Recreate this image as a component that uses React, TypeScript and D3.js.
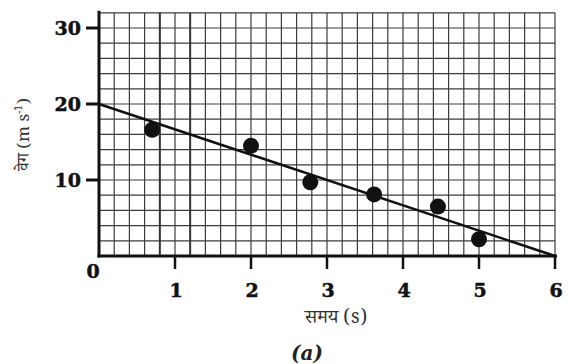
import * as d3 from 'd3'
import { useEffect, useRef } from 'react'

// measured points: time (s) vs velocity (m/s)
const timeValues = [0.7, 2.0, 2.78, 3.62, 4.46, 5.0]
const velocityValues = [16.6, 14.5, 9.7, 8.1, 6.5, 2.2]
// best fit line end points
const fitTimes = [0, 6]
const fitVelocities = [20, 0]
const xTickValues = [1, 2, 3, 4, 5, 6]
const yTickValues = [10, 20, 30]
const heavyGridX = [0.8, 1.2]

const drawChart = (svgEl: SVGSVGElement, width: number, height: number) => {
    const margin = { top: 12.8, right: 13, bottom: 108, left: 99 }

    const svg = d3.select(svgEl)
    svg.selectAll('*').remove()

    const x = d3.scaleLinear()
        .domain([0, 6])
        .range([margin.left, width - margin.right])

    const y = d3.scaleLinear()
        .domain([0, 32])
        .range([height - margin.bottom, margin.top])

    const gridColor = '#3c3c3c'

    // graph paper
    const grid = svg.append('g')
    grid.selectAll('line.v')
        .data(d3.range(0, 31).map(i => i * 0.2))
        .enter()
        .append('line')
        .attr('x1', d => x(d))
        .attr('x2', d => x(d))
        .attr('y1', y(32))
        .attr('y2', y(0))
        .attr('stroke', gridColor)
        .attr('stroke-width', 1.2)

    grid.selectAll('line.h')
        .data(d3.range(0, 17).map(i => i * 2))
        .enter()
        .append('line')
        .attr('x1', x(0))
        .attr('x2', x(6))
        .attr('y1', d => y(d))
        .attr('y2', d => y(d))
        .attr('stroke', gridColor)
        .attr('stroke-width', 1.2)

    grid.selectAll('line.heavy')
        .data(heavyGridX)
        .enter()
        .append('line')
        .attr('x1', d => x(d))
        .attr('x2', d => x(d))
        .attr('y1', y(32))
        .attr('y2', y(0))
        .attr('stroke', '#333')
        .attr('stroke-width', 1.9)

    // axes
    svg.append('line')
        .attr('x1', x(0)).attr('x2', x(0))
        .attr('y1', y(32) - 2).attr('y2', y(0) + 1.5)
        .attr('stroke', '#111').attr('stroke-width', 3)
    svg.append('line')
        .attr('x1', x(0) - 1.5).attr('x2', x(6) + 2)
        .attr('y1', y(0)).attr('y2', y(0))
        .attr('stroke', '#111').attr('stroke-width', 3)

    const tickFont = '"DejaVu Serif", "Liberation Serif", serif'

    // y ticks
    svg.selectAll('line.yt')
        .data(yTickValues)
        .enter()
        .append('line')
        .attr('x1', x(0) - 13)
        .attr('x2', x(0))
        .attr('y1', d => y(d))
        .attr('y2', d => y(d))
        .attr('stroke', '#111')
        .attr('stroke-width', 3)

    svg.selectAll('text.yt')
        .data(yTickValues)
        .enter()
        .append('text')
        .attr('x', x(0) - 18)
        .attr('y', d => y(d) + 7)
        .attr('text-anchor', 'end')
        .attr('font-family', tickFont)
        .attr('font-weight', 'bold')
        .attr('font-size', 19)
        .attr('fill', '#111')
        .attr('stroke', '#111')
        .attr('stroke-width', 0.5)
        .text(d => d)

    // x ticks
    svg.selectAll('line.xt')
        .data(xTickValues)
        .enter()
        .append('line')
        .attr('x1', d => x(d))
        .attr('x2', d => x(d))
        .attr('y1', y(0))
        .attr('y2', y(0) + 13)
        .attr('stroke', '#111')
        .attr('stroke-width', 2.5)

    svg.selectAll('text.xt')
        .data(xTickValues)
        .enter()
        .append('text')
        .attr('x', d => x(d) + 1)
        .attr('y', y(0) + 41)
        .attr('text-anchor', 'middle')
        .attr('font-family', tickFont)
        .attr('font-weight', 'bold')
        .attr('font-size', 19)
        .attr('fill', '#111')
        .attr('stroke', '#111')
        .attr('stroke-width', 0.5)
        .text(d => d)

    svg.append('text')
        .attr('x', x(0) - 6)
        .attr('y', y(0) + 22)
        .attr('text-anchor', 'middle')
        .attr('font-family', tickFont)
        .attr('font-weight', 'bold')
        .attr('font-size', 19)
        .attr('fill', '#111')
        .attr('stroke', '#111')
        .attr('stroke-width', 0.5)
        .text('0')

    // fit line
    const line = d3.line<number>()
        .x((d, i) => x(fitTimes[i]))
        .y(d => y(d))

    svg.append('path')
        .datum(fitVelocities)
        .attr('d', line)
        .attr('fill', 'none')
        .attr('stroke', '#111')
        .attr('stroke-width', 2.6)

    // data points
    svg.selectAll('circle.pt')
        .data(velocityValues)
        .enter()
        .append('circle')
        .attr('cx', (d, i) => x(timeValues[i]))
        .attr('cy', d => y(d))
        .attr('r', 8)
        .attr('fill', '#111')

    const labelFont = '"Noto Serif Devanagari", "Noto Sans Devanagari", "Lohit Devanagari", "DejaVu Serif", serif'

    // axis titles
    svg.append('text')
        .attr('x', x(3) + 9)
        .attr('y', y(0) + 67)
        .attr('text-anchor', 'middle')
        .attr('font-family', labelFont)
        .attr('font-size', 19)
        .attr('fill', '#333')
        .text('समय (s)')

    const yTitle = svg.append('text')
        .attr('transform', `translate(29, ${y(16)}) rotate(-90)`)
        .attr('text-anchor', 'middle')
        .attr('font-family', labelFont)
        .attr('font-size', 17)
        .attr('fill', '#333')
    yTitle.append('tspan').text('वेग (m s')
    yTitle.append('tspan').attr('font-size', 10).attr('dy', -7).text('-1')
    yTitle.append('tspan').attr('dy', 7).text(')')

    svg.append('text')
        .attr('x', x(3) - 20)
        .attr('y', y(0) + 104)
        .attr('text-anchor', 'middle')
        .attr('font-family', '"DejaVu Serif", serif')
        .attr('font-style', 'italic')
        .attr('font-weight', 'bold')
        .attr('font-size', 20)
        .attr('fill', '#222')
        .text('(a)')
}

const App = () => {
    const ref = useRef<SVGSVGElement>(null)
    const width = 568
    const height = 364

    useEffect(() => {
        if (ref.current) drawChart(ref.current, width, height)
    }, [])

    return (
        <svg
            ref={ref}
            width={width}
            height={height}
            style={{ position: 'absolute', left: 0, top: 0, background: '#fff' }}
        />
    )
}

export default App
